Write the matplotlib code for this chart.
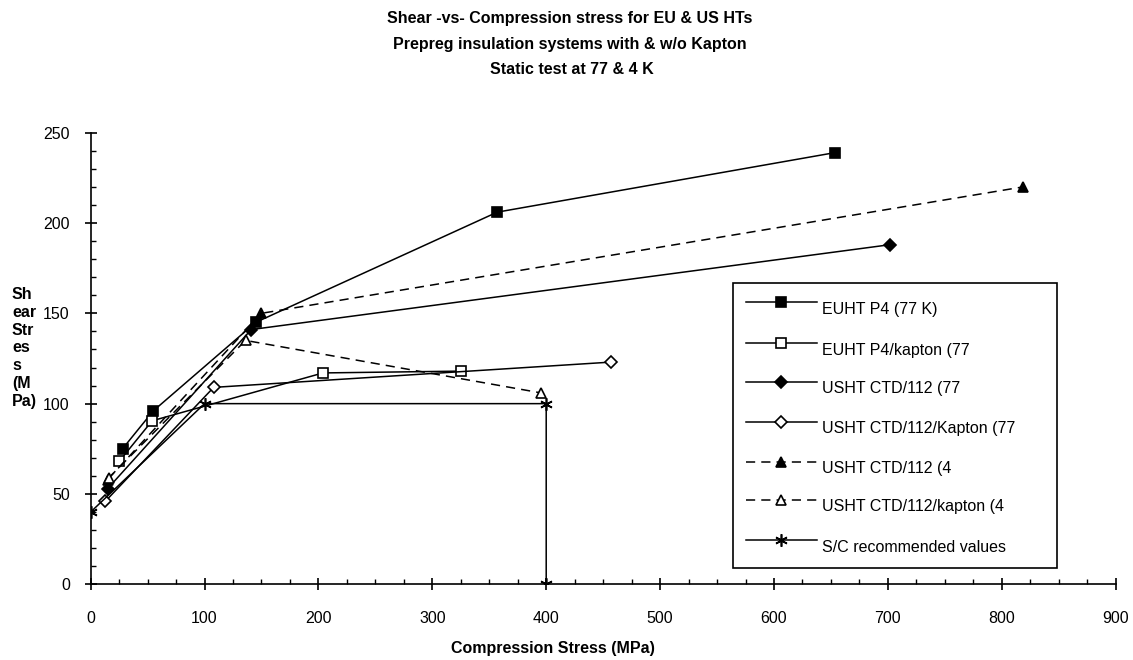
import matplotlib
matplotlib.use("Agg")
import matplotlib.pyplot as plt
from matplotlib.ticker import MultipleLocator
from matplotlib.lines import Line2D
from matplotlib.patches import Rectangle

plt.rcParams['font.family'] = ['Liberation Sans', 'DejaVu Sans']

# Data
euht_p4_x = [28, 55, 145, 357, 654]
euht_p4_y = [75, 96, 145, 206, 239]

euht_p4k_x = [25, 54, 204, 325]
euht_p4k_y = [68, 90.5, 117, 118]

usht77_x = [15, 141, 702]
usht77_y = [53, 141, 188]

usht77k_x = [13, 108, 457]
usht77k_y = [46, 109, 123]

usht4_x = [15, 150, 819]
usht4_y = [58, 150, 220]

usht4k_x = [16, 136, 395]
usht4k_y = [59, 135, 106]

sc_x = [0, 100, 400, 400]
sc_y = [40, 100, 100, 0]

labels = ["EUHT P4 (77 K)", "EUHT P4/kapton (77", "USHT CTD/112 (77",
          "USHT CTD/112/Kapton (77", "USHT CTD/112 (4", "USHT CTD/112/kapton (4",
          "S/C recommended values"]

W, H = 1133, 660
FS = 11.5
fig = plt.figure(figsize=(W / 100, H / 100), dpi=100)
ax = fig.add_axes([0.0800, 0.1147, 0.9047, 0.6843])

lw = 1.1
dash = (0, (6, 4))
styles = [
    dict(ls='-', marker='s', ms=6.5, mfc='black'),
    dict(ls='-', marker='s', ms=6.5, mfc='white'),
    dict(ls='-', marker='D', ms=6, mfc='black'),
    dict(ls='-', marker='D', ms=6, mfc='white'),
    dict(ls=dash, marker='^', ms=7.5, mfc='black'),
    dict(ls=dash, marker='^', ms=7.5, mfc='white'),
    dict(ls='-', marker=(6, 2, 0), ms=9, mfc='black'),
]
series = [(euht_p4_x, euht_p4_y), (euht_p4k_x, euht_p4k_y),
          (usht77_x, usht77_y), (usht77k_x, usht77k_y),
          (usht4_x, usht4_y), (usht4k_x, usht4k_y), (sc_x, sc_y)]

for (xs, ys), st, lab in zip(series, styles, labels):
    ax.plot(xs, ys, color='black', lw=lw, mec='black', mew=1.2, label=lab, **st)

ax.set_xlim(0, 900)
ax.set_ylim(0, 250)
ax.xaxis.set_major_locator(MultipleLocator(100))
ax.xaxis.set_minor_locator(MultipleLocator(25))
ax.yaxis.set_major_locator(MultipleLocator(50))
ax.yaxis.set_minor_locator(MultipleLocator(10))
for s in ['top', 'right']:
    ax.spines[s].set_visible(False)
for s in ['left', 'bottom']:
    ax.spines[s].set_linewidth(1.2)
ax.tick_params(which='major', direction='inout', length=8, width=1.2,
               labelsize=FS)
ax.tick_params(which='minor', direction='in', length=3.6, width=1.0)
ax.tick_params(axis='x', which='major', pad=15)
ax.tick_params(axis='y', which='major', pad=11)

# Titles
fig.text(570 / W, 1 - 19 / H, "Shear -vs- Compression stress for EU & US HTs",
         ha='center', va='center', fontsize=FS, fontweight='bold')
fig.text(570 / W, 1 - 45 / H, "Prepreg insulation systems with & w/o Kapton",
         ha='center', va='center', fontsize=FS, fontweight='bold')
fig.text(572 / W, 1 - 70 / H, "Static test at 77 & 4 K",
         ha='center', va='center', fontsize=FS, fontweight='bold')

fig.text(553 / W, 1 - 648 / H, "Compression Stress (MPa)", ha='center', va='center',
         fontsize=FS, fontweight='bold')
fig.text(12 / W, 1 - 348 / H, "Sh\near\nStr\nes\ns\n(M\nPa)", ha='left', va='center',
         fontsize=FS, fontweight='bold', linespacing=1.23)

# Legend drawn manually to match the reference box
x0, x1, y0, y1 = 733, 1057, 283, 568
fig.patches.append(Rectangle((x0 / W, 1 - y1 / H), (x1 - x0) / W, (y1 - y0) / H,
                             transform=fig.transFigure, fill=True, fc='white',
                             ec='black', lw=1.2, zorder=5))
rows = [302, 343, 382, 422, 462, 500, 540]
for r, st, lab in zip(rows, styles, labels):
    yy = 1 - r / H
    fig.lines.append(Line2D([746 / W, 817 / W], [yy, yy], transform=fig.transFigure,
                            color='black', lw=lw, ls=st['ls'], zorder=6))
    fig.lines.append(Line2D([781 / W], [yy], transform=fig.transFigure,
                            marker=st['marker'], ms=st['ms'], mfc=st['mfc'],
                            mec='black', mew=1.2, ls='none', zorder=7))
    fig.text(822 / W, 1 - (r + 7) / H, lab, ha='left', va='center',
             fontsize=FS, zorder=8)

fig.savefig("out.png", dpi=100)
